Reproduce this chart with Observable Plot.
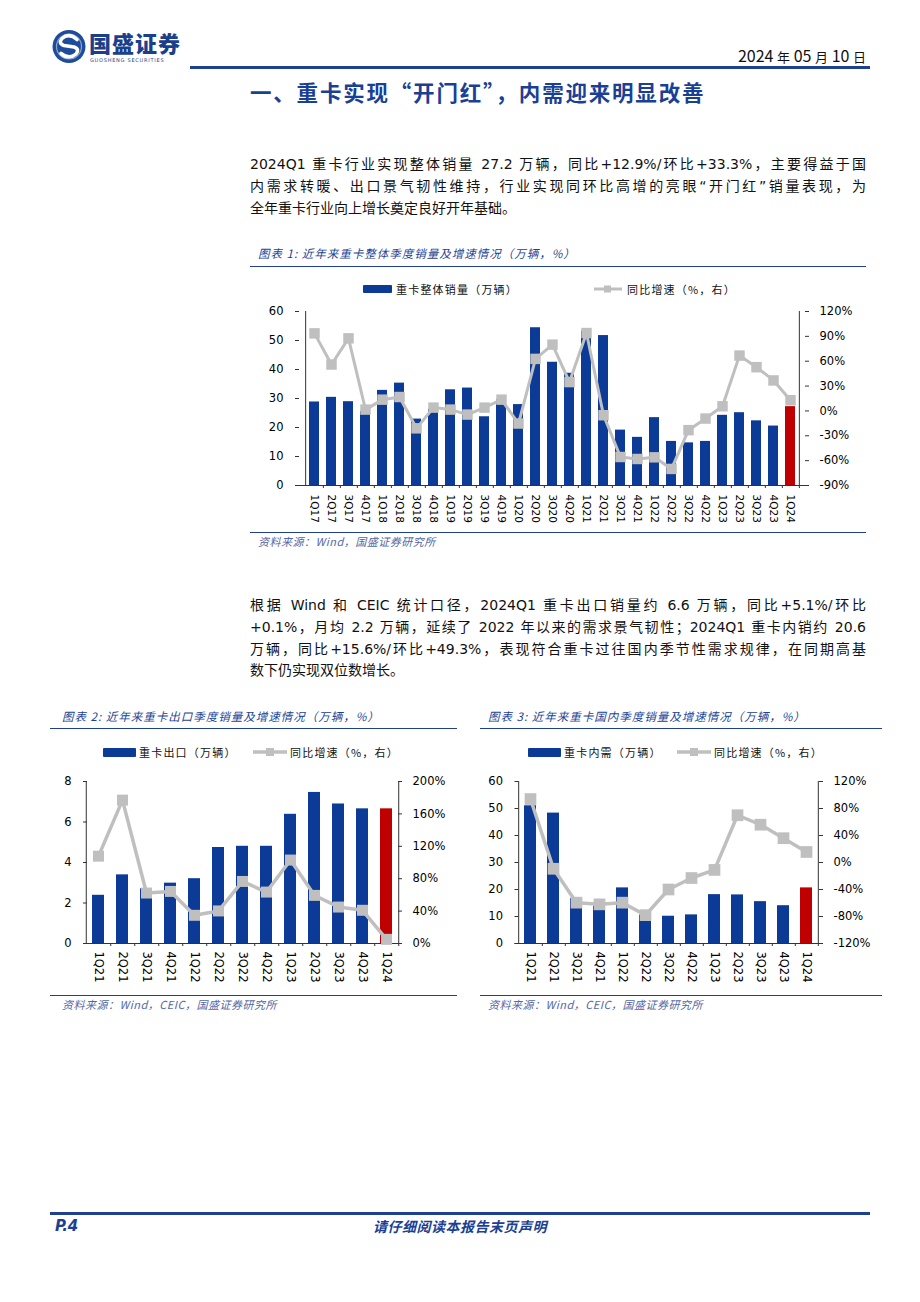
<!DOCTYPE html>
<html><head><meta charset="utf-8">
<script src="https://cdn.jsdelivr.net/npm/d3@7"></script>
<script src="https://cdn.jsdelivr.net/npm/@observablehq/plot@0.6"></script>
<style>
body{margin:0;background:#fff;}
#page{position:relative;width:920px;height:1302px;overflow:hidden;background:#fff;font-family:"DejaVu Sans","Noto Sans CJK SC",sans-serif;}
.para{position:absolute;left:250px;width:616px;font-size:14px;color:#111;}
.para div{text-align:justify;text-align-last:justify;height:21.8px;line-height:21.8px;}
.para div.last{text-align-last:left;}
.cap{position:absolute;font-family:"Noto Sans CJK SC",sans-serif;font-style:italic;font-size:11.5px;line-height:16px;color:#1c3f94;letter-spacing:1px;white-space:nowrap;}
.hr{position:absolute;height:0;border-top:1.5px solid #1f3f8f;}
.src{position:absolute;font-family:"Noto Sans CJK SC","DejaVu Sans",sans-serif;font-style:italic;font-size:11px;line-height:16px;color:#5468a6;white-space:nowrap;letter-spacing:0.5px;}
.lt{position:absolute;font-family:"Noto Sans CJK SC",sans-serif;font-size:11px;line-height:14px;color:#111;letter-spacing:1.2px;white-space:nowrap;}
.sw{position:absolute;background:#0b3a97;border-radius:1px;}
</style></head>
<body><div id="page"></div>
<script>
// ---------------- data ----------------
const quarters1 = ["1Q17","2Q17","3Q17","4Q17","1Q18","2Q18","3Q18","4Q18","1Q19","2Q19","3Q19","4Q19","1Q20","2Q20","3Q20","4Q20","1Q21","2Q21","3Q21","4Q21","1Q22","2Q22","3Q22","4Q22","1Q23","2Q23","3Q23","4Q23","1Q24"];
const totalSales = [28.8,30.4,28.9,25.5,32.8,35.3,22.9,26.3,33.0,33.6,23.7,29.5,27.9,54.4,42.5,38.7,53.2,51.7,19.1,16.6,23.4,15.2,14.7,15.2,24.2,25.1,22.3,20.5,27.2];
const totalYoY = [93.6,56,87.6,1.6,13.6,16.8,-21,4,1.6,-4.4,4,13.6,-15.2,62.8,80,34.8,94,-5.2,-55.6,-58,-56,-70,-23.2,-9.2,5.6,66.8,52.8,36.8,12.9];
const leftTicks1 = [0,10,20,30,40,50,60];
const rightTicks1 = [-90,-60,-30,0,30,60,90,120];

const quarters2 = ["1Q21","2Q21","3Q21","4Q21","1Q22","2Q22","3Q22","4Q22","1Q23","2Q23","3Q23","4Q23","1Q24"];
const exportSales = [2.38,3.39,2.7,2.98,3.2,4.74,4.8,4.8,6.38,7.46,6.89,6.65,6.65];
const exportYoY = [107.8,177,62.3,64.3,34.8,40.2,76.6,63.5,103,59.4,45,41,5.1];
const leftTicks2 = [0,2,4,6,8];
const rightTicks2 = [0,40,80,120,160,200];

const domesticSales = [51.0,48.3,16.6,13.8,20.6,10.5,10.1,10.6,18.1,18.0,15.5,14.0,20.6];
const domesticYoY = [94,-9.3,-59.5,-62,-59.5,-78,-40,-23,-11,70,56,36,15.6];
const leftTicks3 = [0,10,20,30,40,50,60];
const rightTicks3 = [-120,-80,-40,0,40,80,120];

// ---------------- styles ----------------
const BLUE = "#0b3a97", RED = "#c00000", GREY = "#bfbfbf", AX = "#333";
const page = document.getElementById("page");

function add(html){ page.insertAdjacentHTML("beforeend", html); }

// header
add(`<svg style="position:absolute;left:50px;top:28px" width="36" height="38">
  <circle cx="19" cy="18.5" r="16.5" fill="#1d4c9c"/>
  <circle cx="19" cy="18.5" r="12.5" fill="none" stroke="#ffffff" stroke-width="1.2" opacity="0.5"/>
  <path d="M27,11.5 Q19,4.5 12,10.5 Q8,15.5 14,17.5 L24,19 Q30,21 26,26 Q19,32 11,25.5" fill="none" stroke="#fff" stroke-width="3.6" stroke-linecap="round"/>
</svg>`);
add(`<div style="position:absolute;left:89px;top:29px;font-family:'Noto Sans CJK SC';font-weight:900;font-size:22px;line-height:26px;color:#1c3f8c;letter-spacing:1px;white-space:nowrap">国盛证券</div>`);
add(`<div style="position:absolute;left:90px;top:57px;font-family:'DejaVu Sans';font-size:5px;line-height:6px;color:#1c3f8c;letter-spacing:0.75px;white-space:nowrap">GUOSHENG SECURITIES</div>`);
add(`<div style="position:absolute;right:54px;top:45px;font-family:'Liberation Sans Narrow','Noto Sans CJK SC',sans-serif;font-size:16px;line-height:20px;color:#111;white-space:nowrap">2024 <span style="font-family:'Noto Sans CJK SC';font-size:13px">年</span> 05 <span style="font-family:'Noto Sans CJK SC';font-size:13px">月</span> 10 <span style="font-family:'Noto Sans CJK SC';font-size:13px">日</span></div>`);
add(`<div style="position:absolute;left:190px;top:66px;width:680px;height:3px;background:#1f3f8f"></div>`);
add(`<div style="position:absolute;left:250px;top:79px;font-family:'Noto Sans CJK SC';font-weight:700;font-size:21.5px;line-height:26px;color:#1a3f95;letter-spacing:1.8px;white-space:nowrap">一、重卡实现“开门红”，内需迎来明显改善</div>`);

// paragraph 1
add(`<div class="para" style="top:154px">
<div>2024Q1 重卡行业实现整体销量 27.2 万辆，同比+12.9%/环比+33.3%，主要得益于国</div>
<div>内需求转暖、出口景气韧性维持，行业实现同环比高增的亮眼“开门红”销量表现，为</div>
<div class="last">全年重卡行业向上增长奠定良好开年基础。</div></div>`);

// chart 1 decorations
add(`<div class="cap" style="left:258px;top:245px">图表 1:  近年来重卡整体季度销量及增速情况（万辆，%）</div>`);
add(`<div class="hr" style="left:250px;top:266px;width:616px"></div>`);
add(`<div class="sw" style="left:363px;top:285px;width:29px;height:8px"></div>`);
add(`<div class="lt" style="left:396px;top:282px">重卡整体销量（万辆）</div>`);
add(`<svg style="position:absolute;left:593px;top:283px" width="30" height="12"><line x1="1" y1="6" x2="29" y2="6" stroke="${GREY}" stroke-width="3"/><rect x="11" y="2.5" width="7" height="7" fill="${GREY}"/></svg>`);
add(`<div class="lt" style="left:627px;top:282px">同比增速（%，右）</div>`);
add(`<div class="hr" style="left:250px;top:532px;width:616px"></div>`);
add(`<div class="src" style="left:258px;top:533px">资料来源：Wind，国盛证券研究所</div>`);

// paragraph 2
add(`<div class="para" style="top:595px">
<div>根据 Wind 和 CEIC 统计口径，2024Q1 重卡出口销量约 6.6 万辆，同比+5.1%/环比</div>
<div>+0.1%，月均 2.2 万辆，延续了 2022 年以来的需求景气韧性；2024Q1 重卡内销约 20.6</div>
<div>万辆，同比+15.6%/环比+49.3%，表现符合重卡过往国内季节性需求规律，在同期高基</div>
<div class="last">数下仍实现双位数增长。</div></div>`);

// chart 2 decorations
add(`<div class="cap" style="left:62px;top:708px">图表 2:  近年来重卡出口季度销量及增速情况（万辆，%）</div>`);
add(`<div class="hr" style="left:50px;top:728px;width:407px"></div>`);
add(`<div class="sw" style="left:103px;top:748px;width:33px;height:9px"></div>`);
add(`<div class="lt" style="left:139px;top:745px">重卡出口（万辆）</div>`);
add(`<svg style="position:absolute;left:252px;top:746px" width="36" height="12"><line x1="1" y1="6" x2="35" y2="6" stroke="${GREY}" stroke-width="3.5"/><rect x="14" y="2" width="8" height="8" fill="${GREY}"/></svg>`);
add(`<div class="lt" style="left:290px;top:745px">同比增速（%，右）</div>`);
add(`<div class="hr" style="left:50px;top:995px;width:407px"></div>`);
add(`<div class="src" style="left:62px;top:996px">资料来源：Wind，CEIC，国盛证券研究所</div>`);

// chart 3 decorations
add(`<div class="cap" style="left:488px;top:708px">图表 3:  近年来重卡国内季度销量及增速情况（万辆，%）</div>`);
add(`<div class="hr" style="left:480px;top:728px;width:402px"></div>`);
add(`<div class="sw" style="left:528px;top:748px;width:33px;height:9px"></div>`);
add(`<div class="lt" style="left:564px;top:745px">重卡内需（万辆）</div>`);
add(`<svg style="position:absolute;left:676px;top:746px" width="36" height="12"><line x1="1" y1="6" x2="35" y2="6" stroke="${GREY}" stroke-width="3.5"/><rect x="14" y="2" width="8" height="8" fill="${GREY}"/></svg>`);
add(`<div class="lt" style="left:714px;top:745px">同比增速（%，右）</div>`);
add(`<div class="hr" style="left:480px;top:995px;width:402px"></div>`);
add(`<div class="src" style="left:488px;top:996px">资料来源：Wind，CEIC，国盛证券研究所</div>`);

// footer
add(`<div style="position:absolute;left:50px;top:1212px;width:820px;height:3px;background:#1f3f8f"></div>`);
add(`<div style="position:absolute;left:55px;top:1216px;font-family:'DejaVu Sans';font-weight:700;font-style:italic;font-size:15px;line-height:20px;color:#1c3f94">P.4</div>`);
add(`<div style="position:absolute;left:0;width:920px;top:1216px;text-align:center;font-family:'Noto Sans CJK SC';font-weight:700;font-style:italic;font-size:14px;line-height:20px;color:#1c3f94;letter-spacing:0.5px">请仔细阅读本报告末页声明</div>`);

// ---------------- dual-axis chart ----------------
function dual(o) {
  const n = o.cats.length;
  const step = (o.width - o.mL - o.mR) / n;
  const bd = o.cats.map((q, i) => ({q, v: o.bars[i], i}));
  const ld = o.cats.map((q, i) => ({q, g: o.yoy[i]}));
  const base = {
    width: o.width, height: o.height,
    marginLeft: o.mL, marginRight: o.mR, marginTop: o.mT, marginBottom: o.mB,
    style: {fontFamily: "'DejaVu Sans', sans-serif", fontSize: "11px", color: "#000", background: "transparent", overflow: "visible"}
  };
  const xs = {type: "band", domain: o.cats, paddingInner: o.pad, paddingOuter: o.pad / 2};
  const bottom = Plot.plot({
    ...base,
    x: {...xs},
    y: {domain: o.yDomain},
    color: {type: "identity"},
    marks: [
      Plot.barY(bd, {x: "q", y: "v", fill: d => d.i === n - 1 ? RED : BLUE}),
      Plot.ruleY([o.yDomain[0]], {stroke: AX, strokeWidth: 1}),
      Plot.ruleX([o.cats[0]], {x: d => d, dx: -step / 2, y1: o.yDomain[0], y2: o.yDomain[1], stroke: AX}),
      Plot.axisY(o.yTicks, {anchor: "left", tickSize: 4, dx: 4, tickPadding: 12, stroke: AX, fontSize: 11.5, label: null, tickFormat: d => String(d)}),
      Plot.axisX({tickSize: 3, dx: step / 2, tickFormat: () => "", stroke: AX, label: null}),
      Plot.axisX({tickRotate: 90, tickSize: 0, tickPadding: o.xPad, fontSize: o.xFont, label: null})
    ]
  });
  const top = Plot.plot({
    ...base,
    x: {...xs, axis: null},
    y: {domain: o.gDomain},
    marks: [
      Plot.ruleX([o.cats[n - 1]], {x: d => d, dx: step / 2, y1: o.gDomain[0], y2: o.gDomain[1], stroke: AX}),
      Plot.axisY(o.gTicks, {anchor: "right", tickSize: 4, dx: -4, tickPadding: 11, stroke: AX, fontSize: 11.5, label: null, tickFormat: d => d + "%"}),
      Plot.line(ld, {x: "q", y: "g", stroke: GREY, strokeWidth: o.lw}),
      Plot.dot(ld, {x: "q", y: "g", symbol: "square", r: o.r, fill: GREY, stroke: "none"})
    ]
  });
  const wrap = document.createElement("div");
  wrap.style.cssText = `position:absolute;left:${o.left}px;top:${o.top}px;width:${o.width}px;height:${o.height}px;`;
  for (const s of [bottom, top]) {
    s.style.position = "absolute";
    s.style.left = "0px";
    s.style.top = "0px";
    s.style.maxWidth = "none";
    wrap.appendChild(s);
  }
  page.appendChild(wrap);
}

dual({left: 250, top: 300, width: 620, height: 235, mL: 45, mR: 62, mT: 11, mB: 50,
  cats: quarters1, bars: totalSales, yoy: totalYoY,
  yDomain: [0, 60], yTicks: leftTicks1, gDomain: [-90, 120], gTicks: rightTicks1,
  pad: 0.43, r: 5.9, lw: 3, xPad: 9, xFont: 10.5});

dual({left: 50, top: 770, width: 410, height: 225, mL: 33, mR: 59, mT: 11, mB: 52,
  cats: quarters2, bars: exportSales, yoy: exportYoY,
  yDomain: [0, 8], yTicks: leftTicks2, gDomain: [0, 200], gTicks: rightTicks2,
  pad: 0.51, r: 6.2, lw: 3.5, xPad: 8, xFont: 11.5});

dual({left: 480, top: 770, width: 410, height: 225, mL: 34.5, mR: 68, mT: 11, mB: 52,
  cats: quarters2, bars: domesticSales, yoy: domesticYoY,
  yDomain: [0, 60], yTicks: leftTicks3, gDomain: [-120, 120], gTicks: rightTicks3,
  pad: 0.46, r: 6.6, lw: 3.5, xPad: 8, xFont: 11.5});
</script>
</body></html>
